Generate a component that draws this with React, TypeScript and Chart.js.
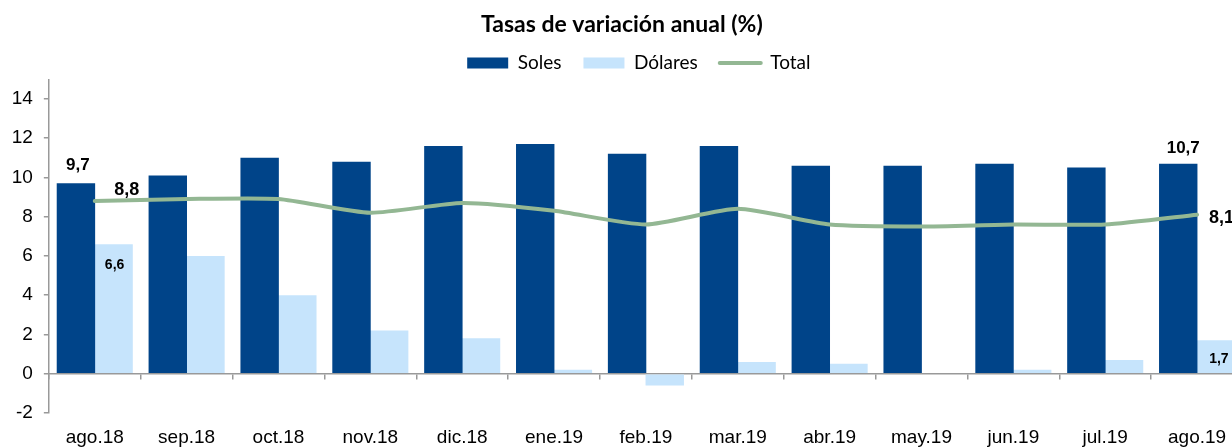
import React, { useEffect, useRef } from 'react';
import { Chart, registerables } from 'chart.js';

Chart.register(...registerables);

const categories = ['ago.18', 'sep.18', 'oct.18', 'nov.18', 'dic.18', 'ene.19', 'feb.19', 'mar.19', 'abr.19', 'may.19', 'jun.19', 'jul.19', 'ago.19'];
const soles = [9.7, 10.1, 11.0, 10.8, 11.6, 11.7, 11.2, 11.6, 10.6, 10.6, 10.7, 10.5, 10.7];
const dolares = [6.6, 6.0, 4.0, 2.2, 1.8, 0.2, -0.6, 0.6, 0.5, 0.0, 0.2, 0.7, 1.7];
const total = [8.8, 8.9, 8.9, 8.2, 8.7, 8.3, 7.6, 8.4, 7.6, 7.5, 7.6, 7.6, 8.1];
const yMin = -2;
const yMax = 15;
const yStep = 2;

const SOLES_COLOR = '#004489';
const DOLARES_COLOR = '#C6E4FC';
const TOTAL_COLOR = '#93B793';
const AXIS_COLOR = '#999999';

const fmt = (v: number) => v.toFixed(1).replace('.', ',');

export default function App() {
  const ref = useRef<HTMLCanvasElement>(null);

  useEffect(() => {
    if (!ref.current) return;
    const labelPlugin = {
      id: 'valueLabels',
      afterDatasetsDraw(chart: any) {
        const ctx = chart.ctx;
        const last = categories.length - 1;
        const mS = chart.getDatasetMeta(0).data;
        const mD = chart.getDatasetMeta(1).data;
        const mT = chart.getDatasetMeta(2).data;
        const draw = (text: string, x: number, y: number, size: number, align: CanvasTextAlign = 'center') => {
          ctx.save();
          ctx.font = `bold ${size}px "Liberation Sans", Arial, sans-serif`;
          ctx.fillStyle = '#000';
          ctx.textAlign = align;
          ctx.textBaseline = 'alphabetic';
          ctx.fillText(text, x, y);
          ctx.restore();
        };
        draw(fmt(soles[0]), mS[0].x + 2, mS[0].y - 13, 17);
        draw(fmt(soles[last]), mS[last].x + 5, mS[last].y - 11, 17);
        draw(fmt(total[0]), mT[0].x + 32, mT[0].y - 6, 18);
        draw(fmt(total[last]), mT[last].x + 12, mT[last].y + 8, 18, 'left');
        draw(fmt(dolares[0]), mD[0].x + 1, mD[0].y + 25, 14);
        draw(fmt(dolares[last]), mD[last].x + 3, mD[last].y + 23, 14);
      },
    };
    const legendShift = {
      id: 'legendShift',
      afterLayout(chart: any) {
        const lg = chart.legend;
        if (lg) {
          lg.left += 17;
          lg.right += 17;
        }
      },
    };

    const chart = new Chart(ref.current, {
      type: 'bar',
      data: {
        labels: categories,
        datasets: [
          {
            label: 'Soles',
            data: soles,
            backgroundColor: SOLES_COLOR,
            borderWidth: 0,
            order: 1,
            categoryPercentage: 0.82,
            barPercentage: 1.02,
          },
          {
            label: 'Dólares',
            data: dolares,
            backgroundColor: DOLARES_COLOR,
            borderWidth: 0,
            order: 1,
            categoryPercentage: 0.82,
            barPercentage: 1.02,
          },
          {
            type: 'line',
            label: 'Total',
            data: total,
            borderColor: TOTAL_COLOR,
            backgroundColor: TOTAL_COLOR,
            borderWidth: 4,
            pointRadius: 0,
            tension: 0.2,
            borderCapStyle: 'round',
            borderJoinStyle: 'round',
            order: 0,
          } as any,
        ],
      },
      options: {
        responsive: false,
        animation: false,
        devicePixelRatio: 1,
        layout: { padding: { left: 0.7, right: 1, top: 0, bottom: -14.7 } },
        plugins: {
          title: {
            display: true,
            text: 'Tasas de variación anual (%)',
            color: '#000',
            font: { family: 'Lato', size: 23, weight: 'bold' },
            padding: { top: 11.2, bottom: -7.3 },
          },
          legend: {
            display: true,
            position: 'top',
            maxHeight: 47.8,
            labels: {
              color: '#000',
              font: { family: 'Lato', size: 19 },
              usePointStyle: true,
              pointStyleWidth: 41,
              boxWidth: 41,
              boxHeight: 11,
              padding: 22,
              generateLabels: (ch: any) =>
                ch.data.datasets.map((ds: any, i: number) => ({
                  text: ds.label,
                  datasetIndex: i,
                  hidden: !ch.isDatasetVisible(i),
                  fillStyle: ds.type === 'line' ? ds.borderColor : ds.backgroundColor,
                  strokeStyle: ds.type === 'line' ? ds.borderColor : ds.backgroundColor,
                  lineWidth: ds.type === 'line' ? 4 : 0,
                  lineCap: 'round',
                  pointStyle: ds.type === 'line' ? 'line' : 'rect',
                  fontColor: '#000',
                })),
            },
          },
          tooltip: { enabled: false },
        },
        scales: {
          x: {
            type: 'category',
            offset: true,
            grid: { display: false, drawTicks: false },
            border: { display: false },
            ticks: {
              color: '#000',
              font: { family: 'Liberation Sans', size: 19 },
              padding: 13,
              maxRotation: 0,
              autoSkip: false,
            },
          },
          x2: {
            type: 'category',
            position: { y: 0 },
            offset: true,
            grid: { offset: true, drawOnChartArea: false, drawTicks: true, tickLength: 5, color: AXIS_COLOR, lineWidth: 1.5 },
            border: { display: true, color: AXIS_COLOR, width: 1.5 },
            ticks: { display: false },
          },
          y: {
            min: yMin,
            max: yMax,
            position: 'left',
            grid: { drawOnChartArea: false, drawTicks: true, tickLength: 5, color: AXIS_COLOR, lineWidth: 1.5 },
            border: { display: true, color: AXIS_COLOR, width: 1.5 },
            ticks: {
              stepSize: yStep,
              includeBounds: false,
              color: '#000',
              font: { family: 'Liberation Sans', size: 19 },
              padding: 11,
            },
          },
        } as any,
      },
      plugins: [labelPlugin, legendShift],
    });
    return () => chart.destroy();
  }, []);

  return (
    <div style={{ position: 'fixed', left: 0, top: 0, width: 1232, height: 447, overflow: 'hidden', background: '#fff' }}>
      <canvas ref={ref} width={1244} height={447} style={{ display: 'block', width: 1244, height: 447 }} />
    </div>
  );
}
